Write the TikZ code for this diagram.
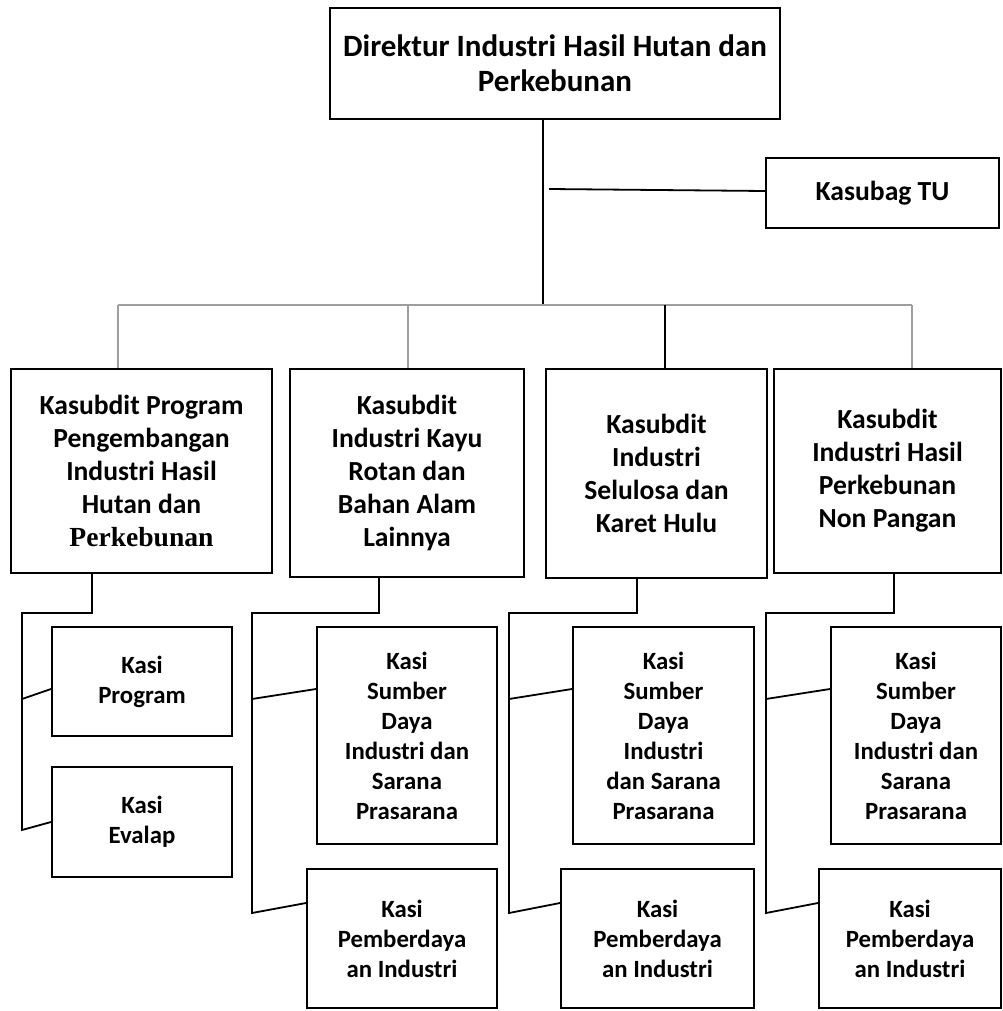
\documentclass[tikz,border=0pt]{standalone}
\usepackage{fontspec}
\setmainfont{Carlito}
\newfontfamily\timesfont{Liberation Serif}

\begin{document}
\begin{tikzpicture}[x = 0.5pt, y = -0.5pt,
    box/.style = {draw, line width = 1pt, align = center, inner sep = 0pt},
    topfont/.style = {font = \fontsize{15.5}{17.5}\selectfont\bfseries},
    subfont/.style = {font = \fontsize{13.8}{16.5}\selectfont\bfseries},
    kasifont/.style = {font = \fontsize{12.4}{15}\selectfont\bfseries},
    link/.style = {line width = 0.9pt},
    glink/.style = {line width = 0.9pt, gray!75}]
    \useasboundingbox (0, 0) rectangle (1002, 1011);

    % pimpinan
    \node[box, topfont, minimum width = 225pt, minimum height = 55.5pt] (dir) at (555, 63.5)
        {Direktur Industri Hasil Hutan dan\\Perkebunan};
    \node[box, subfont, minimum width = 116.5pt, minimum height = 35pt] (tu) at (882.5, 193)
        {Kasubag TU};

    % kasubdit
    \node[box, subfont, minimum width = 130.5pt, minimum height = 102pt] (sub1) at (141.5, 471)
        {Kasubdit Program\\Pengembangan\\Industri Hasil\\Hutan dan\\{\timesfont\bfseries Perkebunan}};
    \node[box, subfont, minimum width = 117pt, minimum height = 104pt] (sub2) at (407, 473)
        {Kasubdit\\Industri Kayu\\Rotan dan\\Bahan Alam\\Lainnya};
    \node[box, subfont, minimum width = 110.5pt, minimum height = 104.5pt] (sub3) at (656.5, 473.5)
        {Kasubdit\\Industri\\Selulosa dan\\Karet Hulu};
    \node[box, subfont, minimum width = 113.5pt, minimum height = 102pt] (sub4) at (887.5, 471)
        {Kasubdit\\Industri Hasil\\Perkebunan\\Non Pangan};

    % kasi
    \node[box, kasifont, minimum width = 90pt, minimum height = 54.5pt] (kprog) at (142, 681.5)
        {Kasi\\Program};
    \node[box, kasifont, minimum width = 90pt, minimum height = 55pt] (kevalap) at (142, 822)
        {Kasi\\Evalap};
    \node[box, kasifont, minimum width = 90pt, minimum height = 108.5pt] (ks2) at (407, 735.5)
        {Kasi\\Sumber\\Daya\\Industri dan\\Sarana\\Prasarana};
    \node[box, kasifont, minimum width = 95pt, minimum height = 69.5pt] (kp2) at (402, 938.5)
        {Kasi\\Pemberdaya\\an Industri};
    \node[box, kasifont, minimum width = 90.5pt, minimum height = 108.5pt] (ks3) at (663.5, 735.5)
        {Kasi\\Sumber\\Daya\\Industri\\dan Sarana\\Prasarana};
    \node[box, kasifont, minimum width = 96.5pt, minimum height = 69.5pt] (kp3) at (657.5, 938.5)
        {Kasi\\Pemberdaya\\an Industri};
    \node[box, kasifont, minimum width = 85pt, minimum height = 108.5pt] (ks4) at (916, 735.5)
        {Kasi\\Sumber\\Daya\\Industri dan\\Sarana\\Prasarana};
    \node[box, kasifont, minimum width = 91pt, minimum height = 69.5pt] (kp4) at (910, 938.5)
        {Kasi\\Pemberdaya\\an Industri};

    % garis utama
    \coordinate (bus) at (543, 305);
    \coordinate (tuj) at (549, 189);
    \draw[link] (dir.south -| bus) -- (bus);
    \draw[link] (tuj) -- ([yshift = 1pt]tu.west);
    \coordinate (d1) at (118, 305);
    \coordinate (d2) at (408, 305);
    \coordinate (d3) at (665, 305);
    \coordinate (d4) at (912, 305);
    \draw[glink] (d1) -- (d4);
    \draw[glink] (d1) -- (d1 |- sub1.north);
    \draw[glink] (d2) -- (d2 |- sub2.north);
    \draw[link] (d3) -- (d3 |- sub3.north);
    \draw[glink] (d4) -- (d4 |- sub4.north);

    % kasi program dan evalap
    \coordinate (t1) at (92, 613);
    \coordinate (r1) at (22, 613);
    \coordinate (a1) at (22, 699);
    \coordinate (b1) at (22, 830);
    \draw[link] (t1 |- sub1.south) -- (t1) -- (r1) -- (b1) -- (kevalap.west);
    \draw[link] (a1) -- ([yshift = -3.75pt]kprog.west);

    \foreach \i/\dx/\rx in {2/379/252, 3/637/509, 4/894/766} {
        \coordinate (t\i) at (\dx, 613);
        \coordinate (r\i) at (\rx, 613);
        \coordinate (a\i) at (\rx, 699);
        \coordinate (b\i) at (\rx, 913);
        \draw[link] (t\i |- sub\i.south) -- (t\i) -- (r\i) -- (b\i) -- ([yshift = 17.75pt]kp\i.west);
        \draw[link] (a\i) -- ([yshift = 23.25pt]ks\i.west);
    }
\end{tikzpicture}
\end{document}
